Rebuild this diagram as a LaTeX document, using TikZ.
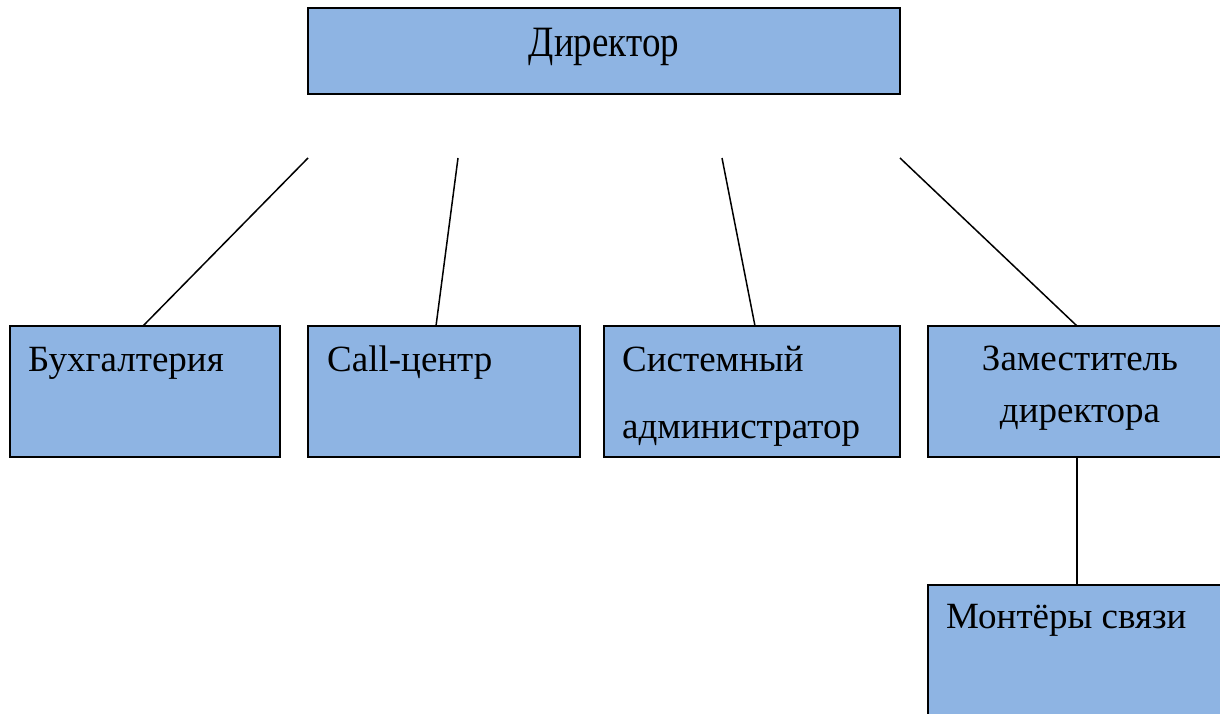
\documentclass[tikz,border=0pt]{standalone}
\usepackage{fontspec}
\setmainfont{Liberation Serif}
\definecolor{boxblue}{HTML}{8EB4E3}
\begin{document}
\begin{tikzpicture}[x=1pt,y=-1pt,
  boxst/.style={draw=black,line width=2.2pt,fill=boxblue},
  lbl/.style={inner sep=0pt,font=\fontsize{37}{42}\selectfont},
  conn/.style={draw=black,line width=1.5pt}]
\useasboundingbox (0,0) rectangle (1220,714);
% boxes
\draw[boxst] (308,8) rectangle (900,94);
\draw[boxst] (10,326) rectangle (280,457);
\draw[boxst] (308,326) rectangle (580,457);
\draw[boxst] (604,326) rectangle (900,457);
\draw[boxst] (928,326) rectangle (1225,457);
\draw[boxst] (928,585) rectangle (1225,720);
% labels
\node[lbl,anchor=base] (dir) at (604,57) {\scalebox{1}[1.17]{Директор}};
\node[lbl,anchor=base west] (buh) at (28,371) {Бухгалтерия};
\node[lbl,anchor=base west] (call) at (327,371) {Call-центр};
\node[lbl,anchor=base west] (sys) at (622,371) {Системный};
\node[lbl,anchor=base west] (sys2) at (622,438) {администратор};
\node[lbl,anchor=base] (zam) at (1080,370) {Заместитель};
\node[lbl,anchor=base] (zam2) at (1080,422) {директора};
\node[lbl,anchor=base west] (mon) at (946,628) {Монтёры связи};
% connector coordinates
\coordinate (s1) at (308,158);
\coordinate (e1) at (143,326);
\coordinate (s2) at (458,158);
\coordinate (e2) at (436,326);
\coordinate (s3) at (722,158);
\coordinate (e3) at (755,326);
\coordinate (s4) at (900,158);
\coordinate (e4) at (1077,326);
\coordinate (s5) at (1077,457);
\coordinate (e5) at (1077,585);
\draw[conn] (s1) -- (e1);
\draw[conn] (s2) -- (e2);
\draw[conn] (s3) -- (e3);
\draw[conn] (s4) -- (e4);
\draw[conn] (s5) -- (e5);
\end{tikzpicture}
\end{document}
